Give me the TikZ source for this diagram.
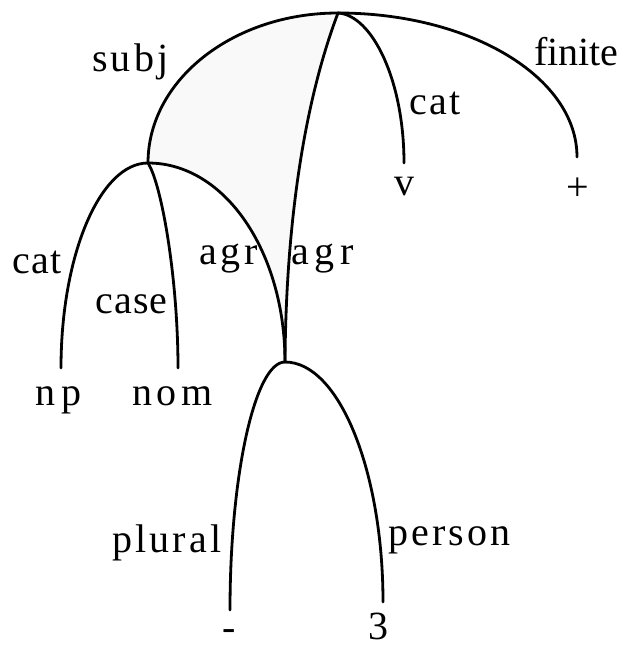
\documentclass[tikz,border=0pt]{standalone}
\usepackage{fontspec}
\setmainfont{Liberation Serif}
\begin{document}
\begin{tikzpicture}[x=1pt,y=-1pt,
  edge/.style={line width=2.8pt, line cap=round},
  lab/.style={font=\fontsize{40}{40}\selectfont, inner sep=0pt, anchor=base west},
  val/.style={font=\fontsize{40}{40}\selectfont, inner sep=0pt, anchor=base}]
\useasboundingbox (0,0) rectangle (630,650);
% structural points
\coordinate (root) at (338,13);
\coordinate (subj) at (148,163);
\coordinate (agrn) at (285,362);
\coordinate (vend) at (404,163);
\coordinate (fend) at (577,157);
\coordinate (npend) at (61,368);
\coordinate (nomend) at (178,368);
\coordinate (plend) at (230,610);
\coordinate (peend) at (383,602);
% shaded region
\fill[gray!5] (root) .. controls (233,13) and (148,80) .. (subj)
  .. controls (225,163) and (285,252) .. (agrn)
  .. controls (286,220) and (305,100) .. (root);
% top level
\draw[edge] (root) .. controls (233,13) and (148,80) .. (subj);
\draw[edge] (root) .. controls (470,13) and (577,77) .. (fend);
\draw[edge] (root) .. controls (372,15) and (404,80) .. (vend);
\draw[edge] (root) .. controls (305,100) and (286,220) .. (agrn);
% subj level
\draw[edge] (subj) .. controls (100,163) and (61,255) .. (npend);
\draw[edge] (subj) .. controls (162,185) and (178,280) .. (nomend);
\draw[edge] (subj) .. controls (225,163) and (285,252) .. (agrn);
% agr level
\draw[edge] (agrn) .. controls (255,362) and (230,475) .. (plend);
\draw[edge] (agrn) .. controls (339,362) and (383,471) .. (peend);
% arc labels
\node[lab] (lsubj) at (92,72) {\addfontfeature{LetterSpace=8}subj};
\node[lab] (lfin) at (534,66) {finite};
\node[lab] (lcat1) at (409,115) {\addfontfeature{LetterSpace=6}cat};
\node[lab] (lcat2) at (12,273) {\addfontfeature{LetterSpace=4}cat};
\node[lab] (lcase) at (95,313) {\addfontfeature{LetterSpace=3}case};
\node[lab] (lagr1) at (199,264) {\addfontfeature{LetterSpace=9}agr};
\node[lab] (lagr2) at (291,264) {\addfontfeature{LetterSpace=14}agr};
\node[lab] (lplu) at (112,552) {\addfontfeature{LetterSpace=8}plural};
\node[lab] (lper) at (388,545) {\addfontfeature{LetterSpace=8}person};
% values
\node[val] (vv) at (404,195) {v};
\node[val] (vplus) at (578,200) {+};
\node[lab] (vnp) at (35,405) {\addfontfeature{LetterSpace=16}np};
\node[lab] (vnom) at (132,405) {\addfontfeature{LetterSpace=11}nom};
\node[val] (vminus) at (229,640) {-};
\node[val] (vthree) at (378,639) {3};
\end{tikzpicture}
\end{document}
